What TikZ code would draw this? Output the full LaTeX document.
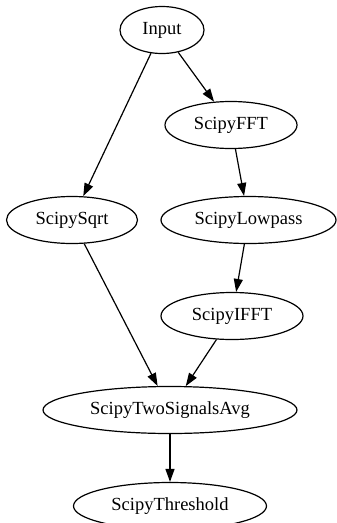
\documentclass[tikz,border=0pt]{standalone}
\usepackage{fontspec}
\setmainfont{Liberation Serif}
\usetikzlibrary{shapes.geometric,arrows.meta}
\begin{document}
\begin{tikzpicture}[x=1pt,y=-1pt,
  nd/.style={ellipse,draw,line width=1.2pt,inner sep=0pt,minimum height=47pt,
    font=\fontsize{18.5}{20}\selectfont},
  edge/.style={line width=1.2pt,-{Triangle[length=13pt,width=9pt]}}]
\clip (0,0) rectangle (337,523);
\fill[white] (0,0) rectangle (337,523);
\node[nd,minimum width=84pt]  (in)  at (162,30)  {Input};
\node[nd,minimum width=132pt] (fft) at (231,125) {ScipyFFT};
\node[nd,minimum width=131pt] (sq)  at (72,220)  {ScipySqrt};
\node[nd,minimum width=175pt] (lp)  at (248.5,220) {ScipyLowpass};
\node[nd,minimum width=142pt] (ifft) at (232,316) {ScipyIFFT};
\node[nd,minimum width=254pt] (avg) at (170,410) {ScipyTwoSignalsAvg};
\node[nd,minimum width=193pt] (thr) at (170,506) {ScipyThreshold};
\draw[edge] (in) -- (fft);
\draw[edge] (in) -- (sq);
\draw[edge] (fft) -- (lp);
\draw[edge] (lp) -- (ifft);
\draw[edge] (sq) -- (avg);
\draw[edge] (ifft) -- (avg);
\draw[edge] (avg) -- (thr);
\end{tikzpicture}
\end{document}
